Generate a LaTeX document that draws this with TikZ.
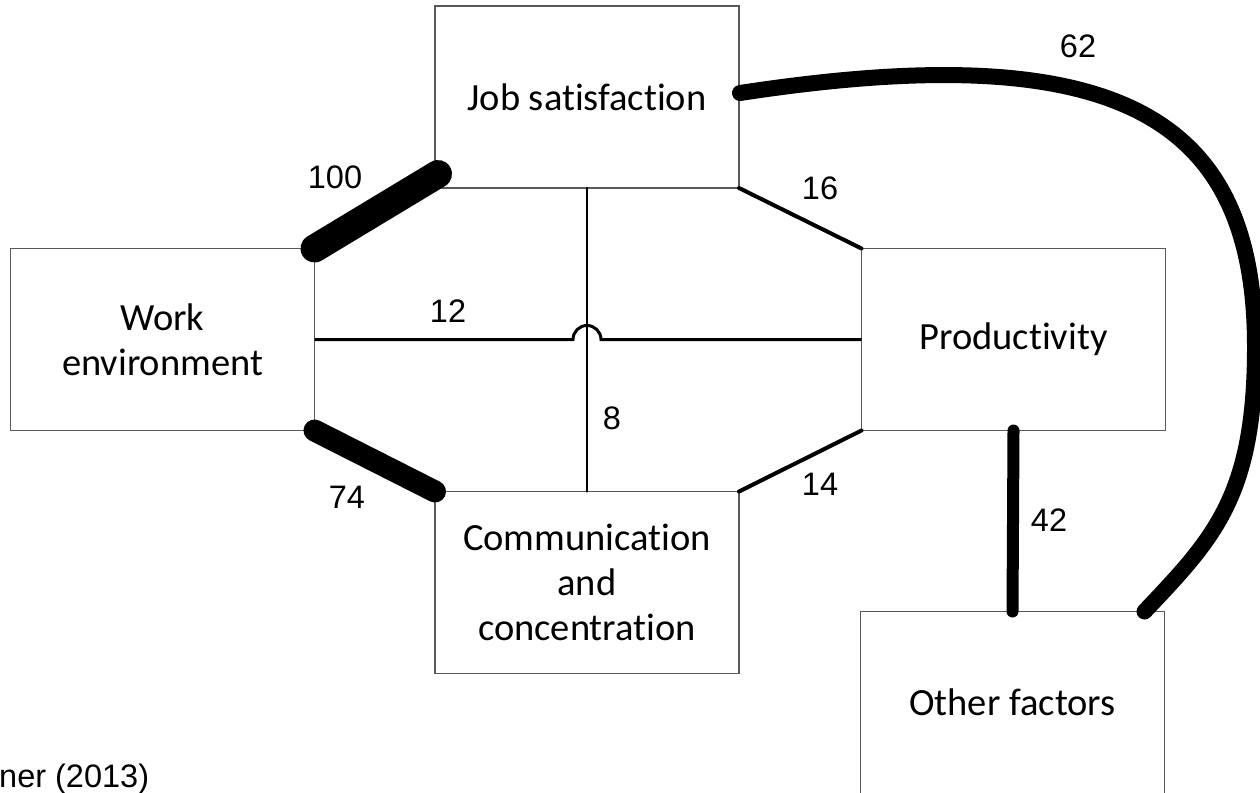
\documentclass[tikz,border=0pt]{standalone}
\usepackage{fontspec}
\setmainfont{Liberation Sans}
\newfontfamily\boxfont[Ligatures=NoCommon]{Carlito}
\usetikzlibrary{calc}
\tikzset{
  factor/.style={draw=black!65, line width=1.3pt, rectangle, minimum width=304pt,
    minimum height=182pt, outer sep=0pt, inner sep=0pt, align=center,
    font=\boxfont\fontsize{38.5}{45}\selectfont},
  weight/.style={font=\fontsize{32.5}{36}\selectfont, inner sep=0pt},
  link/.style={line width=#1, line cap=round},
}
\begin{document}
\begin{tikzpicture}[x=1pt, y=-1pt]
\useasboundingbox (0,0) rectangle (1260,792);
% boxes
\node[factor] (job) at (587,97) {Job satisfaction};
\node[factor] (work) at (162.5,339.5) {Work\\environment};
\node[factor] (prod) at (1013.5,339.5) {Productivity};
\node[factor] (comm) at (587,582.5) {Communication\\and\\concentration};
\node[factor] (other) at (1012.5,702.5) {Other factors};
% helper coordinates
\coordinate (hopL) at ($(work.east -| job.south)+(-14,0)$);
\coordinate (js) at ($(job.south west)+(3,-14)$);
\coordinate (jse) at ($(job.east)+(1,-4)$);
\coordinate (oend) at ($(other.north east)+(-20,0)$);
\coordinate (oright) at (1255,347);
% connectors
\draw[link=28pt] (work.north east) -- (js);
\draw[link=22pt] (work.south east) -- (comm.north west);
\draw[link=4pt] (job.south east) -- (prod.north west);
\draw[link=4pt] (comm.north east) -- (prod.south west);
\draw[link=2.5pt] (job.south) -- (comm.north);
\draw[line width=3pt] (work.east) -- (hopL) arc[start angle=180, end angle=0, radius=14pt] -- (prod.west);
\draw[link=12pt] (prod.south) -- (other.north);
\draw[link=16pt] (jse) .. controls (1119,35) and (1255,117) .. (oright)
   .. controls (1255,497) and (1213,539) .. (oend);
% labels
\node[weight] (l100) at (335,177) {100};
\node[weight] (l16) at (820,188) {16};
\node[weight] (l12) at (448,311) {12};
\node[weight] (l8) at (612,418) {8};
\node[weight] (l74) at (347,497) {74};
\node[weight] (l14) at (820,484) {14};
\node[weight] (l42) at (1049,520) {42};
\node[weight] (l62) at (1078,46) {62};
\node[weight, anchor=base west] (src) at (-1,787) {ner (2013)};
\end{tikzpicture}
\end{document}
